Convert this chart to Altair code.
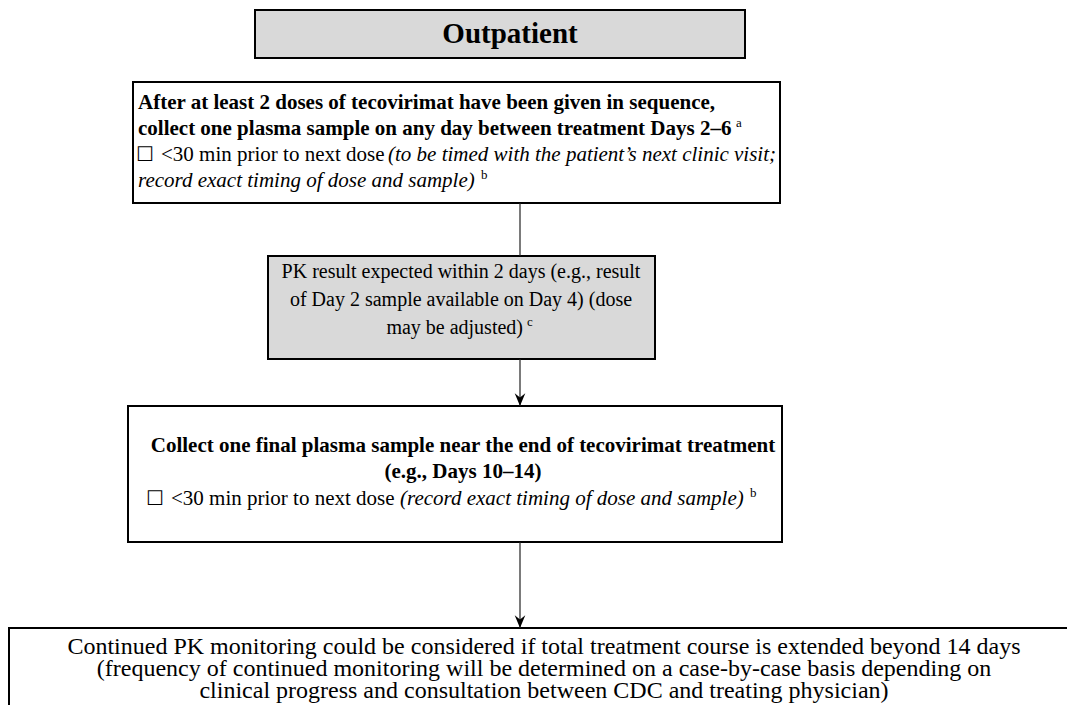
import altair as alt
import pandas as pd

# ---------------- text content ----------------
title_text = "Outpatient"
box2_bold = [
    "After at least 2 doses of tecovirimat have been given in sequence,",
    "collect one plasma sample on any day between treatment Days 2–6",
]
box2_plain = "<30 min prior to next dose"
box2_italic = [
    "(to be timed with the patient’s next clinic visit;",
    "record exact timing of dose and sample)",
]
box3_lines = [
    "PK result expected within 2 days (e.g., result",
    "of Day 2 sample available on Day 4) (dose",
    "may be adjusted)",
]
box4_bold = [
    "Collect one final plasma sample near the end of tecovirimat treatment",
    "(e.g., Days 10–14)",
]
box4_plain = "<30 min prior to next dose"
box4_italic = "(record exact timing of dose and sample)"
box5_lines = [
    "Continued PK monitoring could be considered if total treatment course is extended beyond 14 days",
    "(frequency of continued monitoring will be determined on a case-by-case basis depending on",
    "clinical progress and consultation between CDC and treating physician)",
]
footnote_marks = ["a", "b", "c", "b"]
checkbox = "☐"

# ---------------- layout (page pixel coordinates) ----------------
X0, X1, Y0, Y1 = 8, 1067, 8, 705
boxes = pd.DataFrame({
    "x":  [255, 133, 268, 128, 9],
    "x2": [745, 780, 655, 782, 1100],
    "y":  [10, 82, 256, 406, 628],
    "y2": [58, 203, 359, 542, 760],
    "fill": ["#d9d9d9", "#ffffff", "#d9d9d9", "#ffffff", "#ffffff"],
})
connectors = pd.DataFrame({"x": [520, 520, 520], "y": [203, 359, 542], "y2": [256, 406, 628]})
arrow_tips = pd.DataFrame({"x": [520, 520], "y": [406, 628]})

segs = [
    # text, style, align, x, y
    (title_text, "title", "center", 510, 34),
    (box2_bold[0], "bold", "left", 138, 103),
    (box2_bold[1], "bold", "left", 138, 129),
    (footnote_marks[0], "sup", "left", 736, 123),
    (checkbox, "box", "left", 136, 155),
    (box2_plain, "reg", "left", 161, 155),
    (box2_italic[0], "ital", "left", 388, 155),
    (box2_italic[1], "ital", "left", 138, 181),
    (footnote_marks[1], "sup", "left", 481, 175),
    (box3_lines[0], "reg3", "center", 461, 272),
    (box3_lines[1], "reg3", "center", 461, 300),
    (box3_lines[2], "reg3", "right", 523, 328),
    (footnote_marks[2], "sup", "left", 527, 322),
    (box4_bold[0], "bold", "center", 463, 446),
    (box4_bold[1], "bold", "center", 463, 472),
    (checkbox, "box", "left", 146, 499),
    (box4_plain, "reg", "left", 171, 499),
    (box4_italic, "ital", "left", 400, 499),
    (footnote_marks[3], "sup", "left", 750, 493),
    (box5_lines[0], "big", "center", 544, 647),
    (box5_lines[1], "big", "center", 544, 669),
    (box5_lines[2], "big", "center", 544, 691),
]
texts = pd.DataFrame(segs, columns=["text", "style", "align", "x", "y"])
texts["key"] = texts["style"] + "|" + texts["align"]

SERIF = "Liberation Serif"
FS = 21
styles = {
    "title": dict(font=SERIF, fontSize=29, fontWeight="bold"),
    "bold": dict(font=SERIF, fontSize=FS, fontWeight="bold"),
    "reg": dict(font=SERIF, fontSize=FS),
    "reg3": dict(font=SERIF, fontSize=20),
    "ital": dict(font=SERIF, fontSize=FS, fontStyle="italic"),
    "big": dict(font=SERIF, fontSize=24),
    "sup": dict(font=SERIF, fontSize=13),
    "box": dict(font="DejaVu Sans", fontSize=20),
}

xs = alt.Scale(domain=[X0, X1], nice=False, zero=False)
ys = alt.Scale(domain=[Y0, Y1], nice=False, zero=False, reverse=True)

rects = alt.Chart(boxes).mark_rect(stroke="black", strokeWidth=2, clip=True).encode(
    x=alt.X("x:Q", scale=xs, axis=None),
    x2="x2:Q",
    y=alt.Y("y:Q", scale=ys, axis=None),
    y2="y2:Q",
    fill=alt.Fill("fill:N", scale=None),
)

rules = alt.Chart(connectors).mark_rule(color="#222222", strokeWidth=1.2).encode(
    x=alt.X("x:Q", scale=xs, axis=None),
    y=alt.Y("y:Q", scale=ys, axis=None),
    y2="y2:Q",
)

heads = alt.Chart(arrow_tips).mark_point(
    shape="M0,0L-0.75,-1.8L0,-1.2L0.75,-1.8Z", size=200, filled=True,
    color="black", opacity=1,
).encode(
    x=alt.X("x:Q", scale=xs, axis=None),
    y=alt.Y("y:Q", scale=ys, axis=None),
)

layers = [rects, rules, heads]
for key in texts["key"].unique():
    style, align = key.split("|")
    layers.append(
        alt.Chart(texts).transform_filter(alt.datum.key == key).mark_text(
            align=align, baseline="middle", color="black", **styles[style]
        ).encode(
            x=alt.X("x:Q", scale=xs, axis=None),
            y=alt.Y("y:Q", scale=ys, axis=None),
            text="text:N",
        )
    )

chart = alt.layer(*layers).properties(
    width=X1 - X0, height=Y1 - Y0, autosize="none", padding=0,
).configure_view(stroke=None)

chart.save("out.html", embed_options={"renderer": "svg", "actions": False})
